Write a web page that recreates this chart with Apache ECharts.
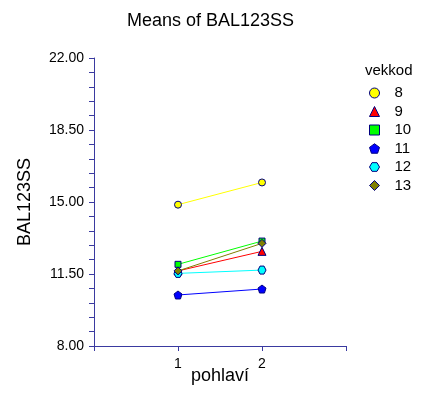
<!DOCTYPE html>
<html><head><meta charset="utf-8">
<script src="https://cdn.jsdelivr.net/npm/echarts@6/dist/echarts.min.js"></script>
<style>html,body{margin:0;padding:0;background:#fff}#c{width:421px;height:401px}</style>
</head><body><div id="c"></div>
<script>
var groups = ['8','9','10','11','12','13'];
var xCats = [1, 2];
var v8  = [14.87, 15.95];
var v9  = [11.65, 12.60];
var v10 = [11.97, 13.10];
var v11 = [10.48, 10.77];
var v12 = [11.53, 11.69];
var v13 = [11.65, 12.99];
var yTickLabels = [8, 11.5, 15, 18.5, 22];
var yTickMarks = [8,8.7,9.4,10.1,10.8,11.5,12.2,12.9,13.6,14.3,15,15.7,16.4,17.1,17.8,18.5,19.2,19.9,20.6,21.3,22];

var values = [v8, v9, v10, v11, v12, v13];
var colors = ['#ffff00','#ff0000','#00ff00','#0000ff','#00ffff','#808000'];
var pent = 'path://M0,-1 L0.951,-0.309 L0.588,0.809 L-0.588,0.809 L-0.951,-0.309 Z';
var hex = 'path://M-1,0 L-0.5,-0.866 L0.5,-0.866 L1,0 L0.5,0.866 L-0.5,0.866 Z';
var symbols = ['circle','triangle','rect',pent,hex,'diamond'];
var sizes = [7,8,6,8,8,8];
var axisCol = '#3a3aa0';
var font = 'Arial, "Liberation Sans", sans-serif';

var series = groups.map(function(g, i){
  return {
    name: g, type: 'line',
    data: xCats.map(function(x, j){ return [x, values[i][j]]; }),
    symbol: symbols[i], symbolSize: sizes[i],
    lineStyle: {color: colors[i], width: 1},
    itemStyle: {color: colors[i], borderColor: '#000080', borderWidth: 1},
    emphasis: {disabled: true},
    animation: false
  };
});

var chart = echarts.init(document.getElementById('c'));
chart.setOption({
  animation: false,
  title: [
    {text: 'Means of BAL123SS', left: 'center', top: 7,
     textStyle: {fontFamily: font, fontSize: 18, fontWeight: 'normal', color: '#000'}},
    {text: 'vekkod', left: 360, top: 58,
     textStyle: {fontFamily: font, fontSize: 15, fontWeight: 'normal', color: '#000'}}
  ],
  legend: {
    orient: 'vertical', left: 364, top: 80,
    itemWidth: 10, itemHeight: 10, itemGap: 2.5, symbolKeepAspect: true,
    data: groups.map(function(g, i){ return {name: g, icon: symbols[i]}; }),
    itemStyle: {borderColor: '#000080', borderWidth: 1},
    textStyle: {fontFamily: font, fontSize: 15, lineHeight: 16, color: '#000', padding: [0,0,0,10]},
    selectedMode: false
  },
  grid: {left: 94, top: 58, right: 75, bottom: 55, containLabel: false},
  xAxis: {
    type: 'value', min: 0, max: 3, interval: 1,
    name: 'pohlaví', nameLocation: 'middle', nameGap: 21, nameMoveOverlap: false,
    nameTextStyle: {fontFamily: font, fontSize: 18, color: '#000'},
    axisLine: {lineStyle: {color: axisCol, width: 1}},
    axisTick: {show: true, length: 5, lineStyle: {color: axisCol}},
    axisLabel: {fontFamily: font, fontSize: 14, color: '#000', margin: 11,
      formatter: function(v){ return (v === 1 || v === 2) ? String(v) : ''; }},
    splitLine: {show: false}
  },
  yAxis: {
    type: 'value', min: 8, max: 22,
    name: 'BAL123SS', nameLocation: 'middle', nameGap: 60, nameRotate: 90,
    nameTextStyle: {fontFamily: font, fontSize: 18, color: '#000'},
    axisLine: {show: true, lineStyle: {color: axisCol, width: 1}},
    axisTick: {show: true, length: 5, customValues: yTickMarks, lineStyle: {color: axisCol}},
    axisLabel: {fontFamily: font, fontSize: 14, color: '#000', margin: 10,
      customValues: yTickLabels,
      formatter: function(v){ return v.toFixed(2); }},
    splitLine: {show: false}
  },
  series: series
});
</script></body></html>
